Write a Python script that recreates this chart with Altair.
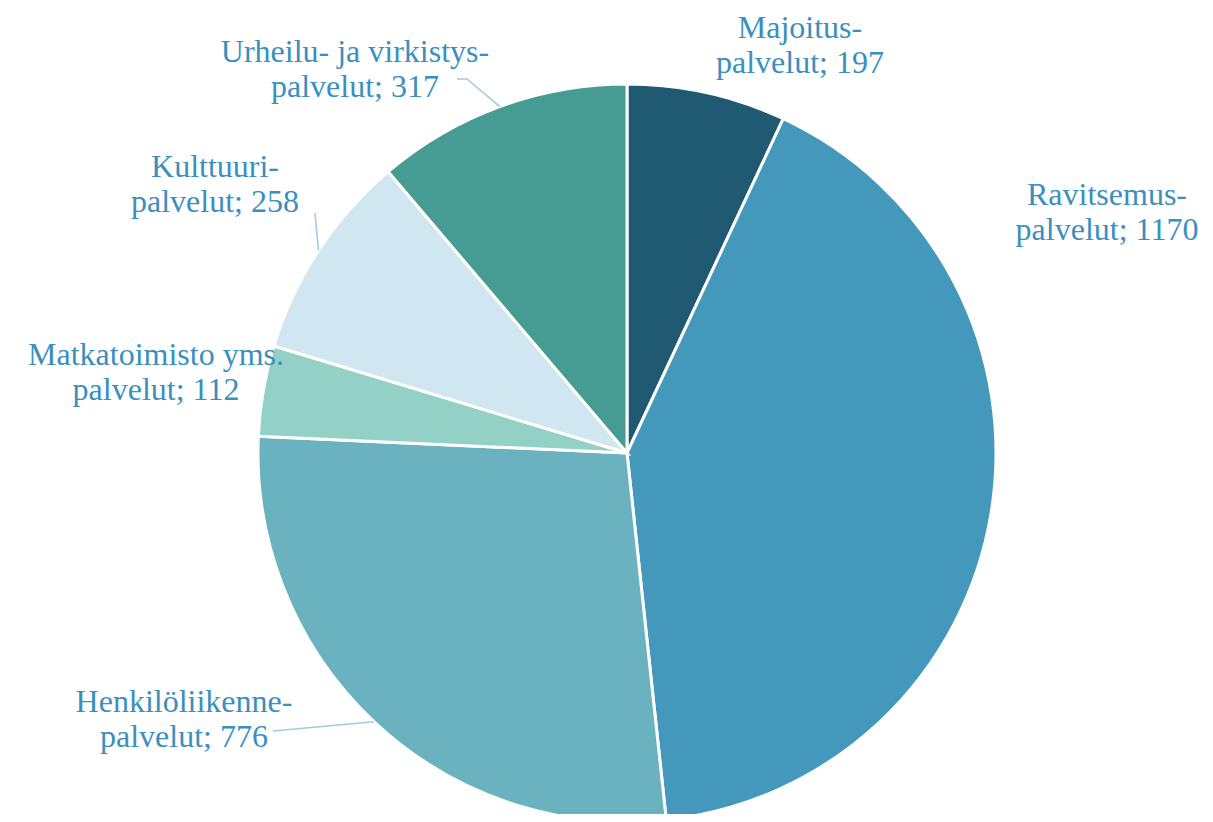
import altair as alt
import pandas as pd
import numpy as np

# ---- data ----
names = ["Majoitus-", "Ravitsemus-", "Henkilöliikenne-", "Matkatoimisto yms.", "Kulttuuri-", "Urheilu- ja virkistys-"]
values = [197, 1170, 776, 112, 258, 317]
colors = ["#1f5a72", "#4398bb", "#6ab2c0", "#93d0c6", "#d0e7f2", "#469b92"]

# ---- layout (pixels, chart coordinates) ----
CX, CY, R = 619, 445, 369
# first-line baseline centre of each label, offset from pie centre
label_off = [(173, -415), (480, -248), (-443, 259), (-471, -88), (-412, -276), (-272, -391)]
# leader start points (offset from centre) for labels that have leader lines
leader_start = {
    2: [(-354, 278)],
    4: [(-312, -240)],
    5: [(-170, -374), (-160, -374)],
}

labels = [f"{n}\npalvelut; {v}" for n, v in zip(names, values)]
df = pd.DataFrame({"name": names, "value": values, "ord": list(range(len(values))), "label": labels})

pie = alt.Chart(df).mark_arc(outerRadius=R, stroke="white", strokeWidth=3).encode(
    theta=alt.Theta("value:Q", stack=True),
    order=alt.Order("ord:Q", sort="ascending"),
    color=alt.Color("name:N", scale=alt.Scale(domain=names, range=colors), legend=None),
    x=alt.value(CX),
    y=alt.value(CY),
)

lab_df = pd.DataFrame({
    "label": labels,
    "lx": [CX + dx for dx, dy in label_off],
    "ly": [CY + dy for dx, dy in label_off],
})
text = alt.Chart(lab_df).mark_text(
    font="Liberation Serif", fontSize=32, color="#3a8fbe", align="center",
    baseline="alphabetic", lineBreak="\n", lineHeight=35,
).encode(
    x=alt.X("lx:Q", scale=None, axis=None),
    y=alt.Y("ly:Q", scale=None, axis=None),
    text="label:N",
)

total = sum(values)
cum = np.cumsum(values)
mid = (cum - np.array(values) / 2) / total * 2 * np.pi
rows = []
for i, starts in leader_start.items():
    seq = 0
    for dx, dy in starts:
        rows.append({"id": i, "seq": seq, "px": CX + dx, "py": CY + dy})
        seq += 1
    rows.append({"id": i, "seq": seq, "px": CX + R * np.sin(mid[i]), "py": CY - R * np.cos(mid[i])})
lead_df = pd.DataFrame(rows)
leaders = alt.Chart(lead_df).mark_line(color="#9fcde0", strokeWidth=1.5).encode(
    x=alt.X("px:Q", scale=None, axis=None),
    y=alt.Y("py:Q", scale=None, axis=None),
    detail="id:N",
    order="seq:Q",
)

chart = alt.layer(pie, leaders, text).properties(
    width=1197, height=806, autosize=alt.AutoSizeParams(type="none"), padding=0
).configure_view(stroke=None)

chart.save("out.html", embed_options={"renderer": "svg", "actions": False})
